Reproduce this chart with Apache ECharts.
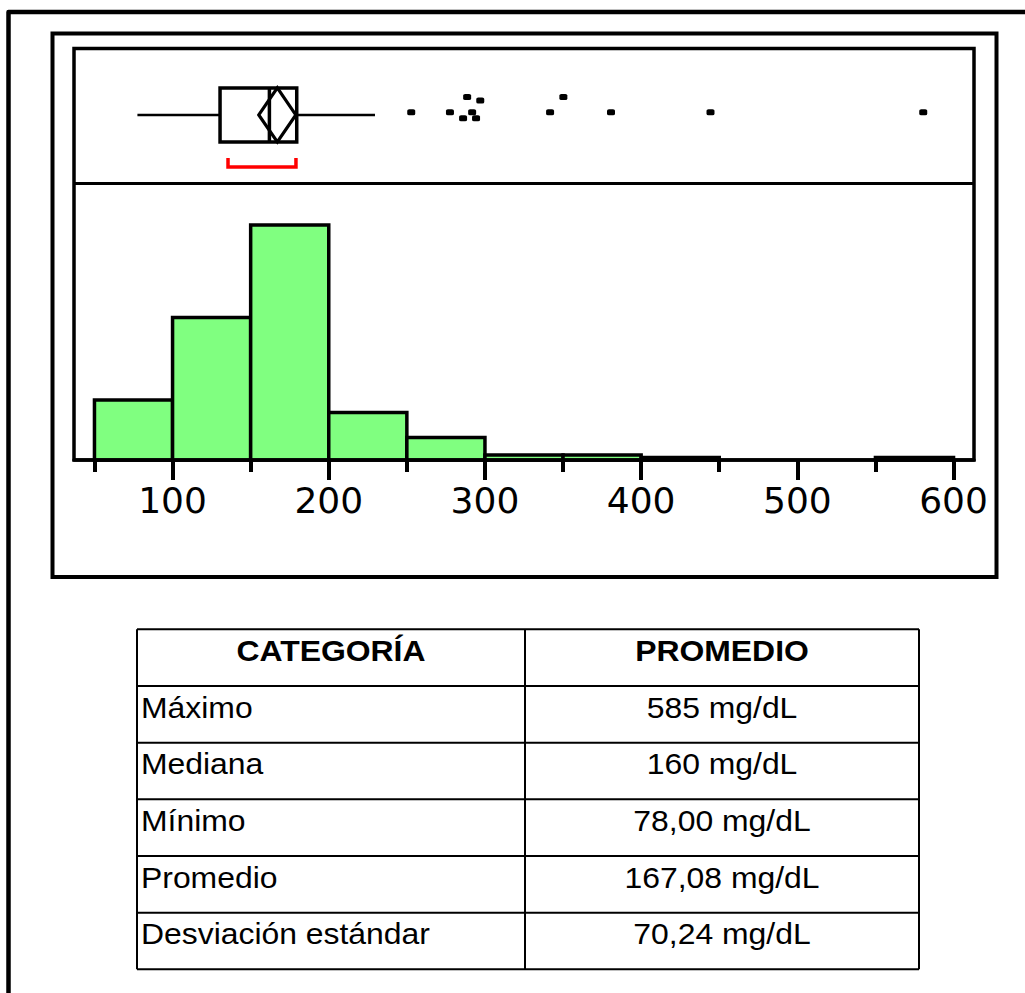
<!DOCTYPE html>
<html><head><meta charset="utf-8">
<script src="https://cdn.jsdelivr.net/npm/echarts@6/dist/echarts.min.js"></script>
<style>html,body{margin:0;padding:0;background:#fff;}#chart{width:1025px;height:993px;}</style>
</head><body><div id="chart"></div>
<script>
// ---- Histogram (mg/dL) ----
const binStarts = [50, 100, 150, 200, 250, 300, 350, 400, 450, 500, 550];
const binWidth = 50;
const binCounts = [24, 57, 94, 19, 9, 2, 2, 1, 0, 0, 1];
// ---- Outlier box plot ----
const boxStats = [77.5, 130.4, 162, 179.5, 229.6];   // low whisker, Q1, median, Q3, high whisker
const meanDiamond = [155.2, 167.08, 178.9];          // lower CI, mean, upper CI
const shortestHalf = [135.5, 179];
const outlierValues = [252.8, 277.6, 286.0, 288.6, 291.8, 294.3, 297.0, 341.7, 350.2, 380.7, 444.4, 580.6];
const outlierJitter = [0.1, 0.1, -0.12, 0.66, 0.1, -0.12, 0.53, 0.1, 0.66, 0.1, 0.1, 0.1];
// ---- Axis ----
const axisMin = 36.9, axisMax = 613.1;
const majorTicks = [100, 200, 300, 400, 500, 600];
const minorTicks = [50, 150, 250, 350, 450, 550];
const tickLabels = ['100', '200', '300', '400', '500', '600'];
// ---- Table ----
const tableHeader = ['CATEGORÍA', 'PROMEDIO'];
const tableLabels = ['Máximo', 'Mediana', 'Mínimo', 'Promedio', 'Desviación estándar'];
const tableValues = ['585 mg/dL', '160 mg/dL', '78,00 mg/dL', '167,08 mg/dL', '70,24 mg/dL'];

const chart = echarts.init(document.getElementById('chart'), null, {renderer: 'svg', width: 1025, height: 993});

// table graphics
const T = {left: 137, right: 919, mid: 525, top: 629.3, rowH: 56.67};
const tableGraphics = [];
const nRows = tableLabels.length + 1;
for (let i = 0; i <= nRows; i++) {
  const y = T.top + i * T.rowH;
  tableGraphics.push({type: 'line', shape: {x1: T.left, y1: y, x2: T.right, y2: y}, style: {stroke: '#000', lineWidth: 2}});
}
[T.left, T.mid, T.right].forEach(x => tableGraphics.push({type: 'line', shape: {x1: x, y1: T.top, x2: x, y2: T.top + nRows * T.rowH}, style: {stroke: '#000', lineWidth: 2}}));
const txt = (s, x, y, align, bold) => ({type: 'text', x: x, y: y, scaleX: 1.1, style: {text: s, x: 0, y: 0, align: align, verticalAlign: 'middle', fill: '#000', font: (bold ? 'bold ' : '') + '29px "Liberation Sans", Arial, sans-serif'}});
tableGraphics.push(txt(tableHeader[0], (T.left + T.mid) / 2, T.top + 21.7, 'center', true));
tableGraphics.push(txt(tableHeader[1], (T.mid + T.right) / 2, T.top + 21.7, 'center', true));
tableLabels.forEach((s, i) => {
  const rt = T.top + (i + 1) * T.rowH;
  tableGraphics.push(txt(s, T.left + 4, rt + 21.3, 'left', false));
  tableGraphics.push(txt(tableValues[i], (T.mid + T.right) / 2, rt + 21.3, 'center', false));
});

const option = {
  backgroundColor: '#fff',
  animation: false,
  grid: [
    {left: 74, top: 48.5, width: 900, height: 135},
    {left: 74, top: 183.5, width: 900, height: 276.5}
  ],
  xAxis: [
    {gridIndex: 0, type: 'value', min: axisMin, max: axisMax, show: false},
    {gridIndex: 1, type: 'value', position: 'bottom', min: axisMin, max: axisMax,
      axisLine: {show: true, onZero: false, lineStyle: {color: '#000', width: 3.5}}, splitLine: {show: false},
      axisTick: {show: true, customValues: majorTicks.concat(minorTicks), length: 20, lineStyle: {color: '#000', width: 4}},
      axisLabel: {show: true, customValues: majorTicks.slice(), formatter: (v) => tickLabels[majorTicks.indexOf(v)] || String(v),
        margin: 40, verticalAlign: 'middle', color: '#000', fontSize: 36, fontFamily: 'DejaVu Sans'}}
  ],
  yAxis: [
    {gridIndex: 0, type: 'value', min: -2.54, max: 2.46, show: false},
    {gridIndex: 1, type: 'value', min: 0, max: 110.6, show: false}
  ],
  series: [
    {
      type: 'custom', xAxisIndex: 1, yAxisIndex: 1,
      data: binStarts.map((s, i) => [s, s + binWidth, binCounts[i]]),
      encode: {x: [0, 1], y: 2},
      renderItem: function (params, api) {
        const c = api.value(2);
        if (!c) return null;
        const p0 = api.coord([api.value(0), c]);
        const p1 = api.coord([api.value(1), 0]);
        return {type: 'rect', shape: {x: p0[0], y: p0[1], width: p1[0] - p0[0], height: p1[1] - p0[1]},
          style: {fill: '#80FF80', stroke: '#000', lineWidth: 3.5}};
      }
    },
    {
      // white cover that shortens the minor ticks (bottom 8px of the 20px ticks)
      type: 'custom', xAxisIndex: 1, yAxisIndex: 1, clip: false, silent: true, z: 20,
      data: minorTicks.map(v => [v, 0]),
      encode: {x: 0, y: 1},
      renderItem: function (params, api) {
        const p = api.coord([api.value(0), 0]);
        return {type: 'rect', shape: {x: p[0] - 4, y: p[1] + 12, width: 8, height: 10}, style: {fill: '#fff'}};
      }
    },
    {
      type: 'custom', xAxisIndex: 0, yAxisIndex: 0,
      data: [[boxStats[0], boxStats[4]]],
      encode: {x: [0, 1]},
      renderItem: function (params, api) {
        const c = (x, y) => api.coord([x, y]);
        const [lo, q1, med, q3, hi] = boxStats;
        const [cl, mean, ch] = meanDiamond;
        const blk = (w) => ({stroke: '#000', lineWidth: w, fill: null});
        const children = [
          {type: 'line', shape: {x1: c(lo, 0)[0], y1: c(lo, 0)[1], x2: c(q1, 0)[0], y2: c(q1, 0)[1]}, style: blk(2.5)},
          {type: 'line', shape: {x1: c(q3, 0)[0], y1: c(q3, 0)[1], x2: c(hi, 0)[0], y2: c(hi, 0)[1]}, style: blk(2.5)},
          {type: 'rect', shape: {x: c(q1, 1)[0], y: c(q1, 1)[1], width: c(q3, 1)[0] - c(q1, 1)[0], height: c(q1, -1)[1] - c(q1, 1)[1]}, style: blk(3.5)},
          {type: 'line', shape: {x1: c(med, 1)[0], y1: c(med, 1)[1], x2: c(med, -1)[0], y2: c(med, -1)[1]}, style: blk(3.5)},
          {type: 'polygon', shape: {points: [c(cl, 0), c(mean, 1), c(ch, 0), c(mean, -1)]}, style: blk(3.2)},
          {type: 'polyline', shape: {points: [c(shortestHalf[0], -1.6), c(shortestHalf[0], -1.93), c(shortestHalf[1], -1.93), c(shortestHalf[1], -1.6)]},
            style: {stroke: '#ff0000', lineWidth: 3.5, fill: null}}
        ];
        return {type: 'group', children: children};
      }
    },
    {
      type: 'scatter', xAxisIndex: 0, yAxisIndex: 0,
      data: outlierValues.map((v, i) => [v, outlierJitter[i]]),
      symbol: 'roundRect', symbolSize: [8, 6],
      itemStyle: {color: '#000', opacity: 1}
    }
  ],
  graphic: [
    {type: 'polyline', z: 100, shape: {points: [[8.5, 1000], [8.5, 12], [1030, 12]]}, style: {stroke: '#000', lineWidth: 4.5, fill: null, lineJoin: 'round'}},
    {type: 'rect', z: 100, shape: {x: 52.5, y: 33.5, width: 944, height: 543.5}, style: {stroke: '#000', lineWidth: 4, fill: null}},
    {type: 'rect', z: 100, shape: {x: 74, y: 48.5, width: 900, height: 411.5}, style: {stroke: '#000', lineWidth: 3.5, fill: null}},
    {type: 'line', z: 100, shape: {x1: 74, y1: 183.5, x2: 974, y2: 183.5}, style: {stroke: '#000', lineWidth: 3}}
  ].concat(tableGraphics)
};
chart.setOption(option);
</script></body></html>
